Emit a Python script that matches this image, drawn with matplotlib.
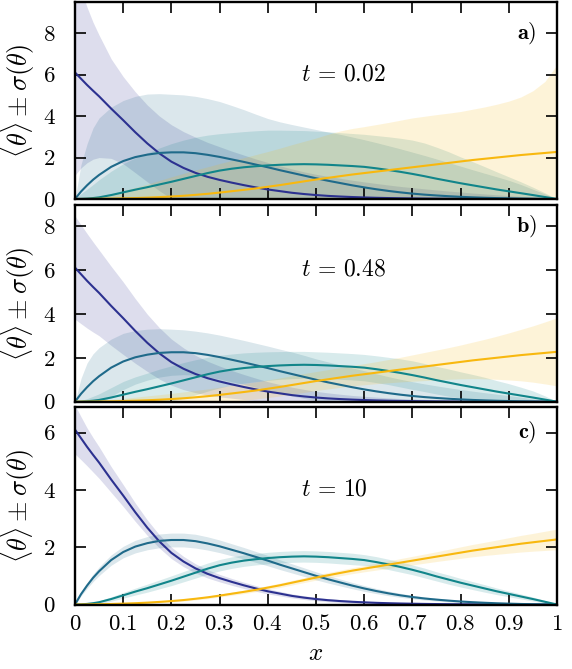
import matplotlib
matplotlib.use("Agg")
import matplotlib.pyplot as plt
import numpy as np

plt.rcParams["mathtext.fontset"] = "cm"
plt.rcParams["font.family"] = "serif"
plt.rcParams["font.serif"] = ["cmr10", "DejaVu Serif"]
plt.rcParams["axes.unicode_minus"] = False

x = [0.0, 0.0125, 0.025, 0.0375, 0.05,
     0.075, 0.1, 0.125, 0.15, 0.175, 0.2, 0.225, 0.25,
     0.275, 0.3, 0.325, 0.35, 0.375, 0.4, 0.425, 0.45,
     0.475, 0.5, 0.525, 0.55, 0.575, 0.6, 0.625, 0.65,
     0.675, 0.7, 0.725, 0.75, 0.775, 0.8, 0.825, 0.85,
     0.875, 0.9, 0.925, 0.95, 0.975, 1.0]

# mean profiles (same in every panel)
mean_navy = [6.10, 5.80, 5.50, 5.22, 4.95,
             4.36, 3.80, 3.22, 2.68, 2.20, 1.80, 1.50, 1.26,
             1.07, 0.92, 0.79, 0.67, 0.56, 0.46, 0.38, 0.30,
             0.24, 0.19, 0.15, 0.12, 0.095, 0.075, 0.058, 0.045,
             0.035, 0.027, 0.02, 0.015, 0.011, 0.008, 0.006, 0.004,
             0.003, 0.002, 0.001, 0.001, 0.0, 0.0]
mean_blue = [0.0, 0.36, 0.66, 0.93, 1.16,
             1.55, 1.83, 2.02, 2.14, 2.22, 2.25, 2.25, 2.21,
             2.13, 2.03, 1.91, 1.79, 1.66, 1.53, 1.39, 1.26,
             1.13, 1.00, 0.88, 0.77, 0.66, 0.56, 0.47, 0.39,
             0.32, 0.26, 0.21, 0.17, 0.135, 0.105, 0.08, 0.06,
             0.043, 0.03, 0.018, 0.009, 0.003, 0.0]
mean_teal = [0.0, 0.005, 0.02, 0.045, 0.08,
             0.19, 0.32, 0.45, 0.57, 0.70, 0.83, 0.97, 1.11,
             1.25, 1.37, 1.46, 1.53, 1.58, 1.62, 1.65, 1.67,
             1.68, 1.67, 1.65, 1.62, 1.59, 1.55, 1.48, 1.40,
             1.31, 1.21, 1.10, 0.98, 0.87, 0.76, 0.66, 0.56,
             0.46, 0.37, 0.28, 0.19, 0.095, 0.0]
mean_yell = [0.0, 0.001, 0.003, 0.006, 0.01,
             0.018, 0.03, 0.045, 0.065, 0.09, 0.12, 0.155, 0.2,
             0.25, 0.31, 0.375, 0.44, 0.51, 0.59, 0.67, 0.76,
             0.85, 0.94, 1.02, 1.1, 1.18, 1.25, 1.32, 1.39,
             1.46, 1.53, 1.6, 1.67, 1.74, 1.81, 1.88, 1.94,
             2.0, 2.06, 2.12, 2.17, 2.22, 2.27]

# standard deviations, panel a (t = 0.02)
sd_navy_a = [4.95, 4.3, 3.75, 3.3, 2.95,
             2.4, 2.1, 1.95, 1.85, 1.8, 1.78, 1.75, 1.72,
             1.66, 1.6, 1.52, 1.45, 1.37, 1.3, 1.22, 1.15,
             1.07, 1.0, 0.94, 0.88, 0.81, 0.75, 0.69, 0.63,
             0.57, 0.52, 0.47, 0.42, 0.37, 0.33, 0.28, 0.24,
             0.2, 0.16, 0.12, 0.08, 0.04, 0.0]
sd_blue_a = [0.0, 1.3, 2.0, 2.5, 2.75,
             2.88, 2.92, 2.93, 2.92, 2.86, 2.8, 2.77, 2.74,
             2.71, 2.67, 2.6, 2.52, 2.43, 2.35, 2.33, 2.33,
             2.34, 2.35, 2.35, 2.35, 2.33, 2.3, 2.25, 2.18,
             2.1, 2.0, 1.89, 1.76, 1.62, 1.48, 1.33, 1.18,
             1.03, 0.87, 0.68, 0.46, 0.24, 0.0]
sd_teal_a = [0.0, 0.25, 0.45, 0.65, 0.85,
             1.15, 1.38, 1.53, 1.65, 1.76, 1.84, 1.87, 1.87,
             1.83, 1.78, 1.74, 1.72, 1.71, 1.7, 1.67, 1.64,
             1.62, 1.6, 1.59, 1.58, 1.57, 1.57, 1.58, 1.6,
             1.62, 1.63, 1.6, 1.52, 1.41, 1.27, 1.14, 1.0,
             0.85, 0.7, 0.55, 0.38, 0.2, 0.0]
sd_yell_a = [0.0, 0.01, 0.03, 0.06, 0.1,
             0.22, 0.37, 0.51, 0.65, 0.8, 0.95, 1.08, 1.2,
             1.3, 1.4, 1.48, 1.55, 1.63, 1.7, 1.78, 1.86,
             1.93, 2.0, 2.1, 2.18, 2.22, 2.24, 2.27, 2.3,
             2.34, 2.38, 2.39, 2.4, 2.4, 2.41, 2.45, 2.5,
             2.57, 2.66, 2.8, 3.05, 3.45, 4.2]

# panel b (t = 0.48)
sd_navy_b = [2.35, 2.25, 2.15, 2.05, 1.95,
             1.8, 1.65, 1.47, 1.3, 1.17, 1.05, 0.95, 0.85,
             0.77, 0.7, 0.63, 0.57, 0.51, 0.45, 0.4, 0.36,
             0.32, 0.28, 0.25, 0.22, 0.19, 0.17, 0.15, 0.13,
             0.11, 0.1, 0.085, 0.07, 0.06, 0.05, 0.042, 0.035,
             0.028, 0.02, 0.015, 0.01, 0.005, 0.0]
sd_blue_b = [0.0, 0.7, 1.1, 1.25, 1.3,
             1.3, 1.28, 1.22, 1.16, 1.1, 1.05, 1.02, 1.0,
             1.0, 1.0, 1.0, 1.0, 1.0, 1.0, 1.0, 1.0,
             0.98, 0.95, 0.93, 0.9, 0.88, 0.85, 0.8, 0.75,
             0.7, 0.65, 0.6, 0.55, 0.5, 0.45, 0.4, 0.35,
             0.3, 0.25, 0.19, 0.12, 0.06, 0.0]
sd_teal_b = [0.0, 0.05, 0.12, 0.2, 0.28,
             0.45, 0.6, 0.68, 0.73, 0.78, 0.8, 0.81, 0.8,
             0.77, 0.74, 0.71, 0.69, 0.67, 0.65, 0.63, 0.62,
             0.61, 0.6, 0.6, 0.6, 0.6, 0.6, 0.61, 0.62,
             0.64, 0.65, 0.64, 0.63, 0.62, 0.6, 0.58, 0.55,
             0.5, 0.45, 0.38, 0.3, 0.17, 0.0]
sd_yell_b = [0.0, 0.01, 0.02, 0.035, 0.05,
             0.085, 0.12, 0.16, 0.2, 0.23, 0.26, 0.29, 0.31,
             0.33, 0.35, 0.37, 0.38, 0.39, 0.4, 0.41, 0.42,
             0.43, 0.43, 0.44, 0.45, 0.46, 0.48, 0.5, 0.53,
             0.56, 0.6, 0.64, 0.68, 0.72, 0.77, 0.83, 0.9,
             0.98, 1.07, 1.17, 1.28, 1.41, 1.55]

# panel c (t = 10)
sd_navy_c = [0.85, 0.75, 0.66, 0.6, 0.55,
             0.45, 0.38, 0.32, 0.27, 0.23, 0.2, 0.18, 0.16,
             0.145, 0.13, 0.12, 0.11, 0.1, 0.09, 0.08, 0.07,
             0.065, 0.06, 0.055, 0.05, 0.045, 0.04, 0.035, 0.03,
             0.025, 0.02, 0.018, 0.015, 0.012, 0.01, 0.009, 0.008,
             0.006, 0.005, 0.004, 0.003, 0.002, 0.0]
sd_blue_c = [0.02, 0.06, 0.1, 0.13, 0.15,
             0.18, 0.2, 0.22, 0.23, 0.24, 0.24, 0.24, 0.24,
             0.23, 0.22, 0.21, 0.2, 0.19, 0.18, 0.17, 0.16,
             0.15, 0.14, 0.13, 0.12, 0.11, 0.1, 0.09, 0.08,
             0.07, 0.06, 0.055, 0.05, 0.045, 0.04, 0.035, 0.03,
             0.025, 0.02, 0.015, 0.01, 0.005, 0.0]
sd_teal_c = [0.0, 0.01, 0.02, 0.035, 0.05,
             0.075, 0.1, 0.12, 0.14, 0.155, 0.17, 0.18, 0.19,
             0.195, 0.2, 0.2, 0.2, 0.2, 0.2, 0.2, 0.2,
             0.2, 0.2, 0.2, 0.2, 0.2, 0.19, 0.19, 0.18,
             0.18, 0.17, 0.17, 0.16, 0.16, 0.15, 0.14, 0.13,
             0.115, 0.1, 0.085, 0.07, 0.045, 0.02]
sd_yell_c = [0.0, 0.002, 0.004, 0.005, 0.005,
             0.008, 0.01, 0.015, 0.02, 0.025, 0.03, 0.035, 0.04,
             0.045, 0.05, 0.055, 0.06, 0.065, 0.07, 0.075, 0.08,
             0.085, 0.09, 0.095, 0.1, 0.105, 0.11, 0.12, 0.13,
             0.14, 0.15, 0.16, 0.17, 0.185, 0.2, 0.215, 0.23,
             0.25, 0.27, 0.29, 0.31, 0.335, 0.36]

times = ["0.02", "0.48", "10"]
letters = ["a", "b", "c"]
ytops = [9.5, 8.95, 6.9]
ytick_sets = [[0, 2, 4, 6, 8], [0, 2, 4, 6, 8], [0, 2, 4, 6]]
t_pos = [(0.468, 6.0), (0.468, 6.0), (0.468, 4.0)]
xticks = [0, 0.1, 0.2, 0.3, 0.4, 0.5, 0.6, 0.7, 0.8, 0.9, 1]
xticklabels = ["0", "0.1", "0.2", "0.3", "0.4", "0.5", "0.6", "0.7", "0.8", "0.9", "1"]

colors = ["#2c3190", "#1f6a8a", "#11858a", "#f8b80f"]
means = [mean_navy, mean_blue, mean_teal, mean_yell]
sds = [
    [sd_navy_a, sd_blue_a, sd_teal_a, sd_yell_a],
    [sd_navy_b, sd_blue_b, sd_teal_b, sd_yell_b],
    [sd_navy_c, sd_blue_c, sd_teal_c, sd_yell_c],
]

W, H = 572, 669
fig = plt.figure(figsize=(W / 100, H / 100), dpi=100)
left, right = 75 / W, 557 / W
boxes = [(2, 199), (205, 401.7), (406.7, 604.5)]

xa = np.array(x)
for i, (top, bot) in enumerate(boxes):
    ax = fig.add_axes([left, 1 - bot / H, right - left, (bot - top) / H])
    for m, s, c in zip(means, sds[i], colors):
        m = np.array(m)
        s = np.array(s)
        ax.fill_between(xa, m - s, m + s, color=c, alpha=0.16, lw=0)
    for m, c in zip(means, colors):
        ax.plot(xa, m, color=c, lw=1.5)

    ax.set_xlim(0, 1)
    ax.set_ylim(0, ytops[i])
    ax.set_yticks(ytick_sets[i])
    ax.set_yticklabels([f"${v}$" for v in ytick_sets[i]], fontsize=16.5)
    ax.set_xticks(xticks)
    if i == 2:
        ax.set_xticklabels([f"${v}$" for v in xticklabels], fontsize=16.5)
        ax.set_xlabel("$x$", fontsize=18, labelpad=6)
    else:
        ax.set_xticklabels([])
    ax.set_ylabel(r"$\langle\theta\rangle \pm \sigma(\theta)$", fontsize=19, labelpad=4)
    ax.tick_params(direction="in", length=8, width=1.2, top=True, right=True)
    ax.tick_params(axis="y", pad=14)
    ax.tick_params(axis="x", pad=7)
    for sp in ax.spines.values():
        sp.set_linewidth(1.7)

    ax.text(t_pos[i][0], t_pos[i][1], rf"$t\,=\,{times[i]}$", fontsize=17,
            ha="left", va="center")
    ax.text(0.958, ytick_sets[i][-1], rf"$\mathbf{{{letters[i]}}})$", fontsize=16,
            ha="right", va="center", transform=ax.get_yaxis_transform())

fig.savefig("out.png", dpi=100)
